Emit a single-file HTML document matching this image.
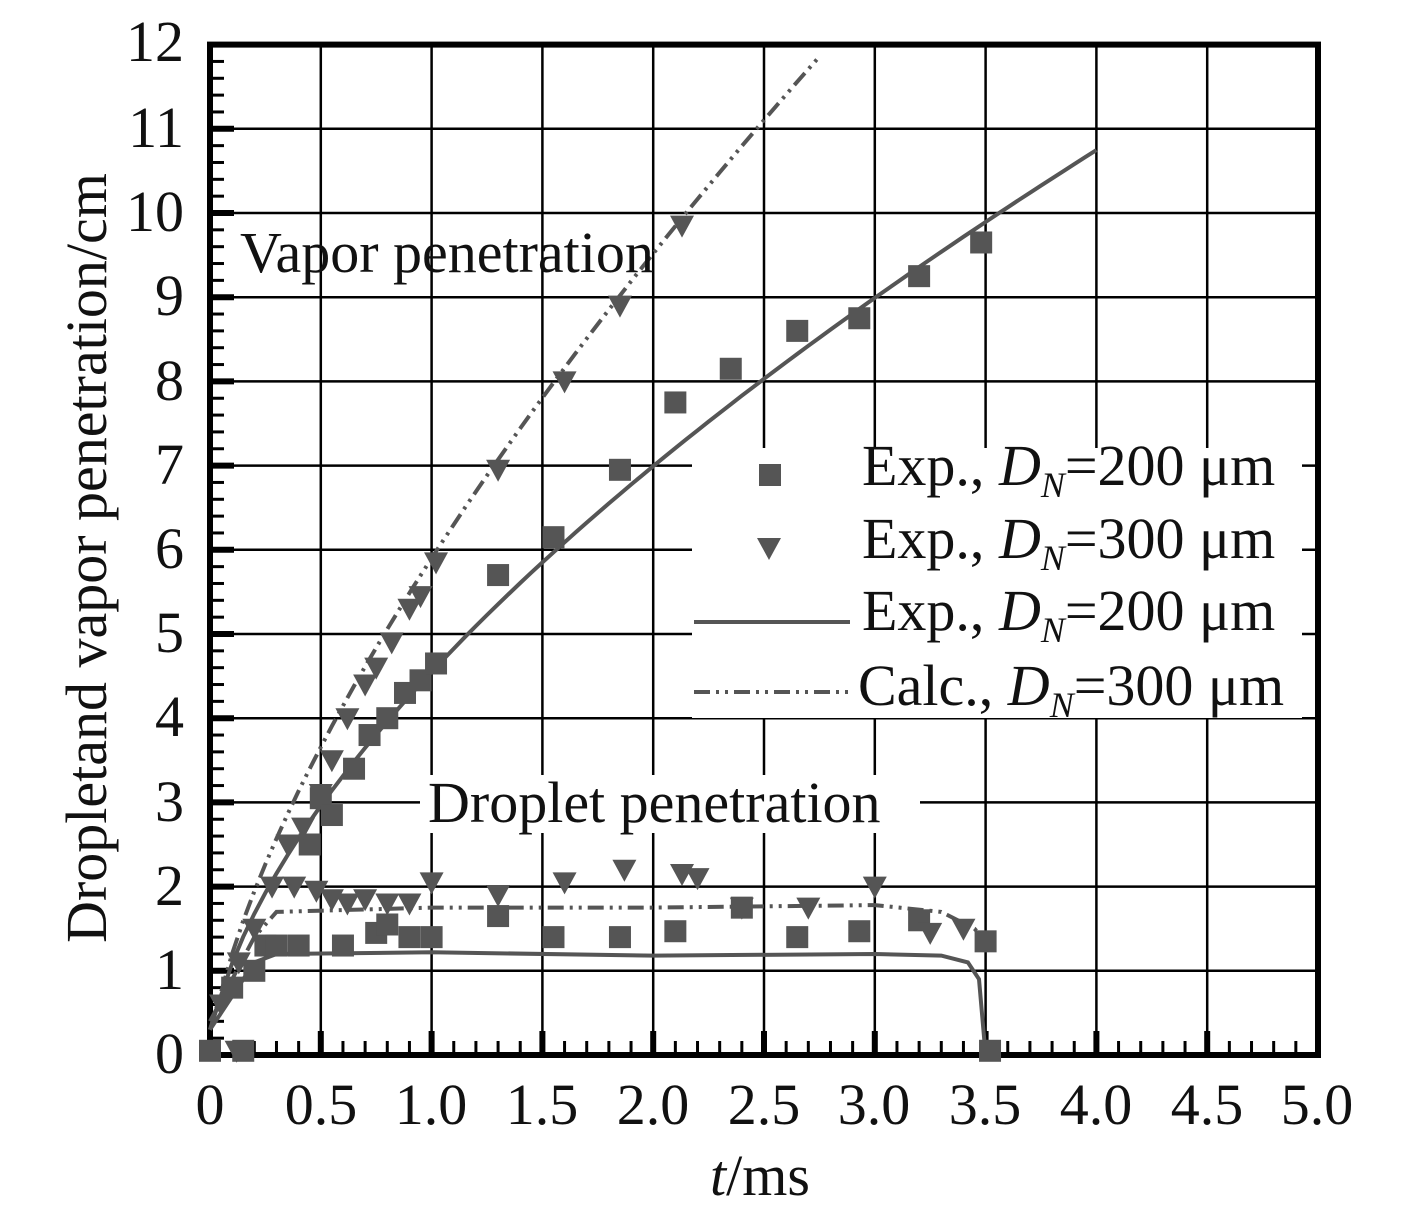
<!DOCTYPE html>
<html><head><meta charset="utf-8"><style>
body{margin:0;background:#fff}
svg text{font-family:"Liberation Serif",serif;fill:#111}
</style></head><body>
<svg id="s" width="1417" height="1215" xmlns="http://www.w3.org/2000/svg">
<g id="grid"></g>
<g id="series"></g>
<rect x="692" y="448" width="610" height="270" fill="#fff"/>
<rect x="420" y="775" width="500" height="58" fill="#fff"/>
<text x="240" y="272" font-size="58">Vapor penetration</text>
<text x="428" y="822" font-size="58">Droplet penetration</text>
<g font-size="58">
<rect x="759" y="464" width="22" height="22" fill="#555"/>
<text x="862" y="485">Exp., <tspan font-style="italic">D</tspan><tspan font-style="italic" font-size="36" dy="12">N</tspan><tspan dy="-12">=200 μm</tspan></text>
<polygon points="757,538 781,538 769,560" fill="#555"/>
<text x="862" y="558">Exp., <tspan font-style="italic">D</tspan><tspan font-style="italic" font-size="36" dy="12">N</tspan><tspan dy="-12">=300 μm</tspan></text>
<line x1="694" y1="622" x2="850" y2="622" stroke="#555" stroke-width="4"/>
<text x="862" y="630">Exp., <tspan font-style="italic">D</tspan><tspan font-style="italic" font-size="36" dy="12">N</tspan><tspan dy="-12">=200 μm</tspan></text>
<line x1="694" y1="692" x2="850" y2="692" stroke="#555" stroke-width="4" stroke-dasharray="16,6,3,6,3,6"/>
<text x="858" y="705">Calc., <tspan font-style="italic">D</tspan><tspan font-style="italic" font-size="36" dy="12">N</tspan><tspan dy="-12">=300 μm</tspan></text>
</g>
<g font-size="58" text-anchor="middle">
<text x="210" y="1124">0</text><text x="321" y="1124">0.5</text><text x="431" y="1124">1.0</text><text x="542" y="1124">1.5</text><text x="653" y="1124">2.0</text><text x="764" y="1124">2.5</text><text x="874" y="1124">3.0</text><text x="985" y="1124">3.5</text><text x="1096" y="1124">4.0</text><text x="1207" y="1124">4.5</text><text x="1317" y="1124">5.0</text>
</g>
<g font-size="58" text-anchor="end">
<text x="184" y="1073">0</text><text x="184" y="989">1</text><text x="184" y="905">2</text><text x="184" y="821">3</text><text x="184" y="736">4</text><text x="184" y="652">5</text><text x="184" y="568">6</text><text x="184" y="484">7</text><text x="184" y="400">8</text><text x="184" y="315">9</text><text x="184" y="231">10</text><text x="184" y="147">11</text><text x="184" y="61">12</text>
</g>
<text x="760" y="1195" font-size="58" text-anchor="middle"><tspan font-style="italic">t</tspan>/ms</text>
<text transform="translate(106,558) rotate(-90)" font-size="58" text-anchor="middle">Dropletand vapor penetration/cm</text>
</svg>
<script>
const X=t=>210+t*221.6, Y=v=>1055-v*84.2;
const NS="http://www.w3.org/2000/svg";
function el(p,n,a){const e=document.createElementNS(NS,n);for(const k in a)e.setAttribute(k,a[k]);p.appendChild(e);return e;}
const g=document.getElementById('grid');
for(let i=1;i<10;i++)el(g,'line',{x1:X(i*0.5),x2:X(i*0.5),y1:Y(12),y2:Y(0),stroke:'#000','stroke-width':2.5});
for(let i=1;i<12;i++)el(g,'line',{x1:X(0),x2:X(5),y1:Y(i),y2:Y(i),stroke:'#000','stroke-width':2.5});
for(let i=1;i<50;i++){const maj=i%5==0;el(g,'line',{x1:X(i*0.1),x2:X(i*0.1),y1:Y(0),y2:Y(0)-(maj?24:14),stroke:'#000','stroke-width':maj?6:3});}
for(let i=1;i<60;i++){const maj=i%5==0;el(g,'line',{x1:X(0),x2:X(0)+(maj?24:14),y1:Y(i*0.2),y2:Y(i*0.2),stroke:'#000','stroke-width':maj?6:3});}
el(g,'rect',{x:X(0),y:Y(12),width:X(5)-X(0),height:Y(0)-Y(12),fill:'none',stroke:'#000','stroke-width':6});
const s=document.getElementById('series');
function path(pts,dash){let d='';pts.forEach((p,i)=>d+=(i?'L':'M')+X(p[0]).toFixed(1)+','+Y(p[1]).toFixed(1));el(s,'path',{d,fill:'none',stroke:'#555','stroke-width':4,'stroke-dasharray':dash||'none'});}
let a=[],b=[];
for(let t=0.05;t<=4.0001;t+=0.05)a.push([t,4.55*Math.pow(t,0.62)]);
a.unshift([0,0.3]);path(a);
for(let t=0.05;t<=2.76;t+=0.05)b.push([t,5.9*Math.pow(t,0.69)]);
b.unshift([0,0.3]);path(b,'16,6,3,6,3,6');
path([[0,0.3],[0.1,0.7],[0.2,1.1],[0.3,1.2],[1,1.22],[2,1.18],[3,1.2],[3.3,1.18],[3.42,1.1],[3.47,0.9],[3.5,0]]);
path([[0,0.4],[0.1,0.9],[0.2,1.4],[0.3,1.7],[1,1.75],[2,1.75],[3,1.78],[3.3,1.7],[3.45,1.5],[3.5,1.35]],'16,6,3,6,3,6');
const sq=[[0,0.05],[0.1,0.8],[0.15,0.05],[0.2,1.0],[0.25,1.3],[0.3,1.3],[0.4,1.3],[0.45,2.5],[0.5,3.05],[0.55,2.85],[0.6,1.3],[0.65,3.4],[0.72,3.8],[0.8,4.0],[0.88,4.3],[0.95,4.45],[1.02,4.65],[1.3,5.7],[1.55,6.15],[1.85,6.95],[2.1,7.75],[2.35,8.15],[2.65,8.6],[2.93,8.75],[3.2,9.25],[3.48,9.65],[0.75,1.45],[0.9,1.4],[1.0,1.4],[1.3,1.65],[1.55,1.4],[1.85,1.4],[2.1,1.47],[2.4,1.75],[2.65,1.4],[2.93,1.47],[3.2,1.6],[3.5,1.35],[3.52,0.05],[0.8,1.55]];
sq.forEach(p=>el(s,'rect',{x:X(p[0])-11,y:Y(p[1])-11,width:22,height:22,fill:'#555'}));
const tr=[[0.35,2.5],[0.42,2.7],[0.5,3.1],[0.55,3.5],[0.62,4.0],[0.7,4.4],[0.75,4.6],[0.82,4.9],[0.9,5.3],[0.95,5.45],[1.02,5.85],[1.3,6.95],[1.6,8.0],[1.85,8.9],[2.13,9.85],[0.05,0.6],[0.13,1.1],[0.2,1.5],[0.28,2.0],[0.38,2.0],[0.48,1.95],[0.55,1.85],[0.62,1.8],[0.7,1.85],[0.8,1.8],[0.9,1.8],[1.0,2.05],[1.3,1.9],[1.6,2.05],[1.87,2.2],[2.13,2.15],[2.2,2.1],[2.4,1.75],[2.7,1.75],[3.0,2.0],[3.25,1.45],[3.4,1.5],[0.12,0.05]];
tr.forEach(p=>{const x=X(p[0]),y=Y(p[1]);el(s,'polygon',{points:`${x-12},${y-10} ${x+12},${y-10} ${x},${y+12}`,fill:'#555'});});
</script>
</body></html>
